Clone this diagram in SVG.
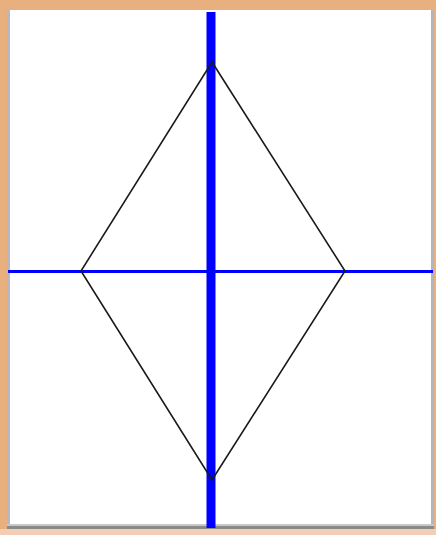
<svg xmlns="http://www.w3.org/2000/svg" width="436" height="535" viewBox="0 0 436 535">
  <style>
    .axis { stroke: #0000ff; fill: none; }
    .edge { stroke: #1a1a1a; stroke-width: 1.6; fill: none; stroke-linejoin: miter; }
  </style>
  <rect x="0" y="0" width="436" height="535" fill="#e8b07e"/>
  <g id="frame">
    <rect x="7" y="10" width="427" height="520" fill="#ffffff"/>
    <rect x="7" y="10" width="3" height="520" fill="#b8b8c4"/>
    <rect x="431" y="10" width="3" height="520" fill="#b4b4c0"/>
    <rect x="7" y="524" width="427" height="2" fill="#c8c8c8"/>
    <rect x="7" y="526" width="427" height="3" fill="#8a8a8a"/>
    <rect x="0" y="529" width="436" height="6" fill="#f2cfb4"/>
  </g>
  <g id="connectors">
    <line class="axis" x1="8" y1="271.5" x2="433" y2="271.5" stroke-width="3"/>
    <line class="axis" x1="211" y1="12" x2="211" y2="528" stroke-width="9"/>
  </g>
  <g id="diamond">
    <polygon class="edge" points="212,62 345,271 212,480 81,271"/>
  </g>
</svg>
